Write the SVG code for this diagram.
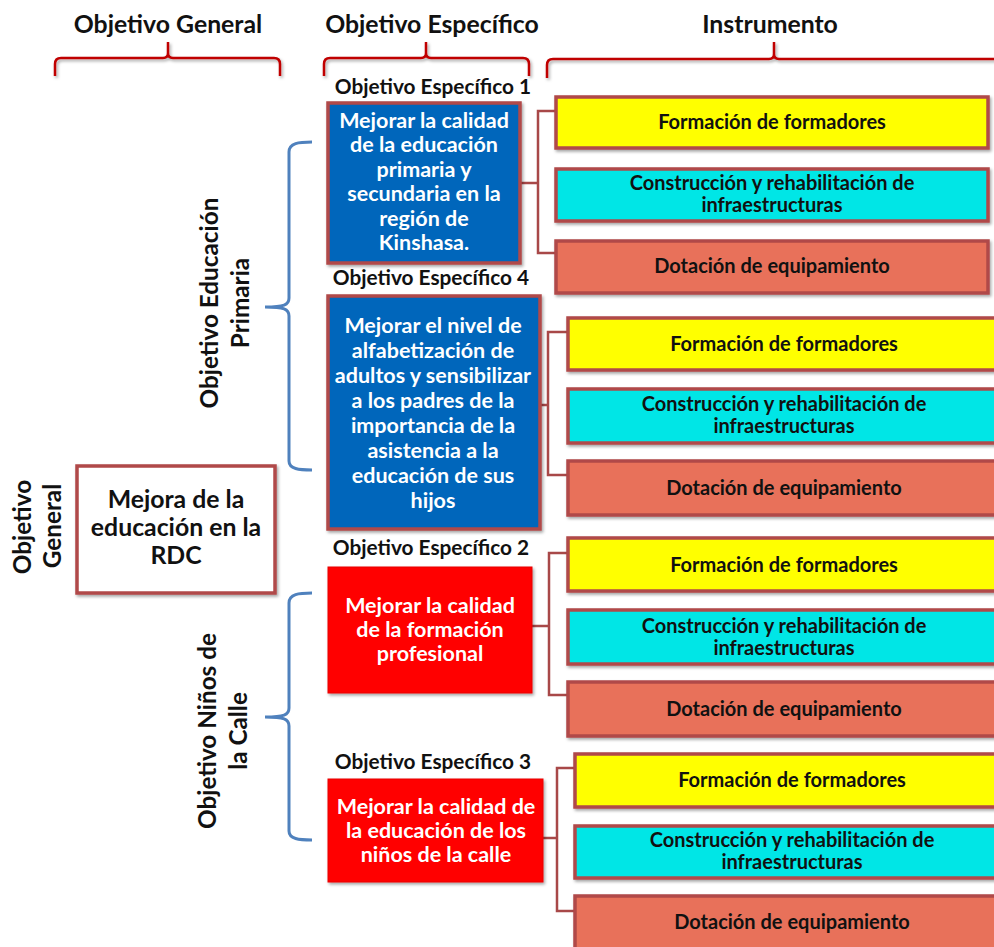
<svg xmlns="http://www.w3.org/2000/svg" width="994" height="947" viewBox="0 0 994 947">
<defs>
<filter id="sh" x="-10%" y="-10%" width="130%" height="130%">
<feDropShadow dx="1.5" dy="2" stdDeviation="1.5" flood-color="#000" flood-opacity="0.35"/>
</filter>
<style>
text{font-family:Lato,"Liberation Sans",sans-serif;font-weight:bold;text-anchor:middle}
.hd{font-size:24.8px;fill:#111}
.lbl{font-size:20.8px;fill:#111}
.wt{font-size:21.5px;fill:#fff}
.ins{font-size:20px;fill:#111}
.gen{font-size:24.8px;fill:#111}
.vt{font-size:24.3px;fill:#111}
.box{stroke:#b04848;stroke-width:3.5;filter:url(#sh)}
.red{fill:#ff0000;stroke:#e80000;stroke-width:1;filter:url(#sh)}
.y{fill:#ffff00}
.c{fill:#00e6e6}
.s{fill:#e8715a}
.b{fill:#0066bb}
.con{fill:none;stroke:#a84848;stroke-width:2.5}
.br{fill:none;stroke:#c00000;stroke-width:2.5;filter:url(#sh)}
.bl{fill:none;stroke:#4f81bd;stroke-width:3}
</style>
</defs>

<g id="headers">
<text class="hd" x="168" y="33">Objetivo General</text>
<text class="hd" x="432" y="33">Objetivo Específico</text>
<text class="hd" x="770" y="33">Instrumento</text>
<path class="br" d="M55,76 L55,64 Q55,58 61,58 L163,58 Q168,58 168,53 L168,42 M168,53 Q168,58 173,58 L274,58 Q280,58 280,64 L280,76"/>
<path class="br" d="M324,76 L324,64 Q324,58 330,58 L421,58 Q426,58 426,53 L426,42 M426,53 Q426,58 431,58 L523,58 Q529,58 529,64 L529,76"/>
<path class="br" d="M547,78 L547,65 Q547,59 553,59 L769,59 Q774,59 774,54 L774,42 M774,54 Q774,59 779,59 L1000,59"/>
</g>

<g id="vertical-labels">
<text class="vt" transform="translate(31,527) rotate(-90)">Objetivo</text>
<text class="vt" transform="translate(61,526) rotate(-90)">General</text>
<text class="vt" transform="translate(218,303) rotate(-90)">Objetivo Educación</text>
<text class="vt" transform="translate(249,303) rotate(-90)">Primaria</text>
<text class="vt" transform="translate(216,731) rotate(-90)">Objetivo Niños de</text>
<text class="vt" transform="translate(247,731) rotate(-90)">la Calle</text>
</g>

<g id="braces">
<path class="bl" d="M312,142 C299,142 289,143 289,152 L289,298 C289,305 284,307 265,307 C284,307 289,309 289,316 L289,461 C289,469 299,470 312,470"/>
<path class="bl" d="M312,593 C299,593 289,594 289,603 L289,708 C289,715 284,717 265,717 C284,717 289,719 289,726 L289,831 C289,839 299,840 312,840"/>
</g>

<g id="connectors">
<path class="con" d="M521,183 H538 M555,111 H538 V253 H555"/>
<path class="con" d="M541,405 H548 M567,332 H548 V475 H567"/>
<path class="con" d="M532,626 H549 M567,553 H549 V695 H567"/>
<path class="con" d="M543,838 H557 M574,768 H557 V911 H574"/>
</g>

<g id="general">
<rect class="box" x="77" y="466" width="198" height="127" fill="#fff"/>
<text class="gen" x="176" y="508">Mejora de la</text>
<text class="gen" x="176" y="536">educación en la</text>
<text class="gen" x="176" y="564">RDC</text>
</g>

<g id="oe1">
<text class="lbl" x="433" y="94">Objetivo Específico 1</text>
<rect class="box b" x="328" y="103" width="192" height="160"/>
<text class="wt" x="424" y="128">Mejorar la calidad</text>
<text class="wt" x="424" y="152">de la educación</text>
<text class="wt" x="424" y="177">primaria y</text>
<text class="wt" x="424" y="201">secundaria en la</text>
<text class="wt" x="424" y="226">región de</text>
<text class="wt" x="424" y="250">Kinshasa.</text>
</g>

<g id="oe1-instr">
<rect class="box y" x="556" y="97" width="432" height="51"/>
<text class="ins" x="772" y="129">Formación de formadores</text>
<rect class="box c" x="556" y="169" width="432" height="52"/>
<text class="ins" x="772" y="190">Construcción y rehabilitación de</text>
<text class="ins" x="772" y="212">infraestructuras</text>
<rect class="box s" x="556" y="241" width="432" height="52"/>
<text class="ins" x="772" y="273">Dotación de equipamiento</text>
</g>

<g id="oe4">
<text class="lbl" x="431" y="285">Objetivo Específico 4</text>
<rect class="box b" x="328" y="296" width="212" height="233"/>
<text class="wt" x="433" y="333">Mejorar el nivel de</text>
<text class="wt" x="433" y="358">alfabetización de</text>
<text class="wt" x="433" y="383">adultos y sensibilizar</text>
<text class="wt" x="433" y="408">a los padres de la</text>
<text class="wt" x="433" y="433">importancia de la</text>
<text class="wt" x="433" y="458">asistencia a la</text>
<text class="wt" x="433" y="483">educación de sus</text>
<text class="wt" x="433" y="508">hijos</text>
</g>

<g id="oe4-instr">
<rect class="box y" x="568" y="318" width="440" height="52"/>
<text class="ins" x="784" y="351">Formación de formadores</text>
<rect class="box c" x="568" y="389" width="440" height="54"/>
<text class="ins" x="784" y="411">Construcción y rehabilitación de</text>
<text class="ins" x="784" y="433">infraestructuras</text>
<rect class="box s" x="568" y="461" width="440" height="54"/>
<text class="ins" x="784" y="495">Dotación de equipamiento</text>
</g>

<g id="oe2">
<text class="lbl" x="431" y="555">Objetivo Específico 2</text>
<rect class="red" x="328" y="567" width="204" height="126"/>
<text class="wt" x="430" y="613">Mejorar la calidad</text>
<text class="wt" x="430" y="637">de la formación</text>
<text class="wt" x="430" y="661">profesional</text>
</g>

<g id="oe2-instr">
<rect class="box y" x="568" y="538" width="440" height="53"/>
<text class="ins" x="784" y="572">Formación de formadores</text>
<rect class="box c" x="568" y="610" width="440" height="54"/>
<text class="ins" x="784" y="633">Construcción y rehabilitación de</text>
<text class="ins" x="784" y="655">infraestructuras</text>
<rect class="box s" x="568" y="682" width="440" height="54"/>
<text class="ins" x="784" y="716">Dotación de equipamiento</text>
</g>

<g id="oe3">
<text class="lbl" x="433" y="769">Objetivo Específico 3</text>
<rect class="red" x="328" y="779" width="215" height="103"/>
<text class="wt" x="436" y="814">Mejorar la calidad de</text>
<text class="wt" x="436" y="838">la educación de los</text>
<text class="wt" x="436" y="862">niños de la calle</text>
</g>

<g id="oe3-instr">
<rect class="box y" x="575" y="754" width="440" height="53"/>
<text class="ins" x="792" y="787">Formación de formadores</text>
<rect class="box c" x="575" y="826" width="440" height="52"/>
<text class="ins" x="792" y="847">Construcción y rehabilitación de</text>
<text class="ins" x="792" y="869">infraestructuras</text>
<rect class="box s" x="575" y="896" width="440" height="60"/>
<text class="ins" x="792" y="929">Dotación de equipamiento</text>
</g>
</svg>
